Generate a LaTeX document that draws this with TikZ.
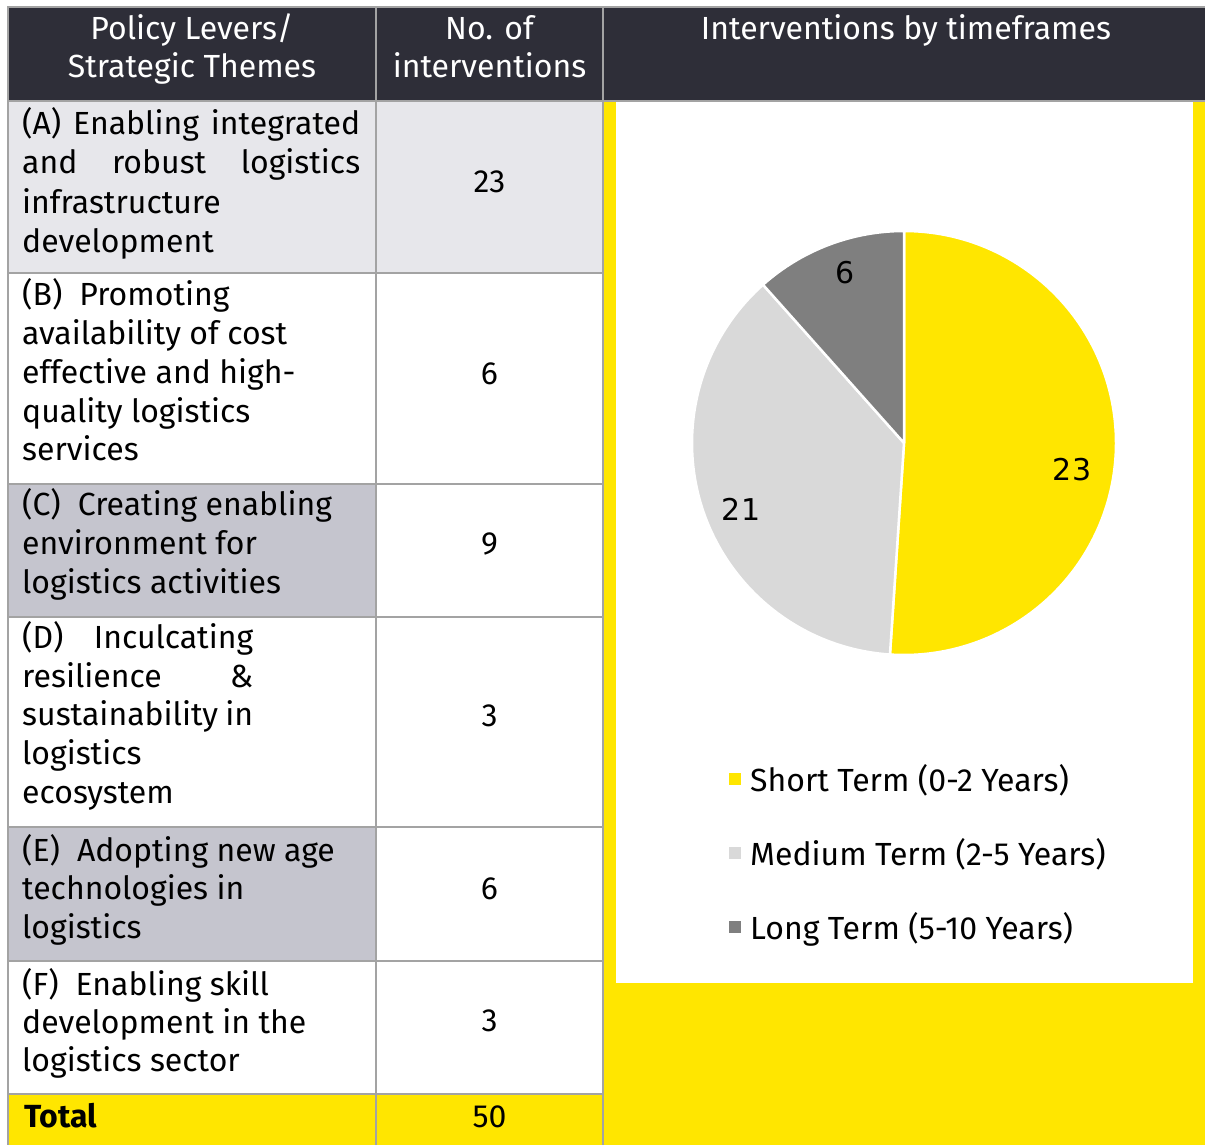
\documentclass[tikz,border=0pt]{standalone}
\usepackage{fontspec}
\setmainfont{Fira Sans}
\newfontfamily\regf{Fira Sans}
\newfontfamily\dejaf{DejaVu Sans}
\definecolor{hdrbg}{HTML}{2E2E38}
\definecolor{yel}{HTML}{FFE600}
\definecolor{rowA}{HTML}{E7E7EB}
\definecolor{rowG}{HTML}{C5C5CE}
\definecolor{gridgray}{HTML}{A3A3A3}
\definecolor{pielight}{HTML}{D9D9D9}
\definecolor{piedark}{HTML}{7F7F7F}
\newcommand{\bodyfont}{\fontsize{32}{38}\selectfont}
\newcommand{\hdrfont}{\regf\fontsize{32}{38}\selectfont}
\newcommand{\legfont}{\regf\fontsize{32}{38}\selectfont}
\newcommand{\piefont}{\dejaf\fontsize{30}{36}\selectfont}
\begin{document}
\begin{tikzpicture}[x=1pt,y=-1pt,
  gridline/.style={draw=gridgray, line width=2pt},
  txt/.style={anchor=base west, inner sep=0pt, font=\bodyfont},
  num/.style={anchor=base, inner sep=0pt, font=\bodyfont},
  hdr/.style={anchor=base, inner sep=0pt, font=\hdrfont, text=white},
  pielbl/.style={anchor=base, inner sep=0pt, font=\piefont},
  leg/.style={anchor=base west, inner sep=0pt, font=\legfont},
  legsq/.style={minimum size=12pt, inner sep=0pt, draw=none},
  slice/.style={draw=white, line width=2.5pt, line join=round}
]
\useasboundingbox (0,0) rectangle (1205,1145);
\fill[white] (0,0) rectangle (1205,1145);
% fills
\fill[hdrbg] (8,7) rectangle (1205,101);
\fill[rowA] (8,101) rectangle (603,273);
\fill[rowG] (8,484) rectangle (376,617);
\fill[rowG] (8,827) rectangle (376,961);
\fill[yel] (8,1094) rectangle (603,1145);
\fill[yel] (603,101) rectangle (1205,1145);
\fill[white] (616,102) rectangle (1193,983);
% grid
\draw[gridline] (7,7) -- (1205,7);
\draw[gridline] (7,101) -- (1205,101);
\foreach \xx in {8,376,603} \draw[gridline] (\xx,7) -- (\xx,1145);
\foreach \yy in {273,484,617,827,961,1094} \draw[gridline] (8,\yy) -- (603,\yy);
% header
\node[hdr] (h1a) at (192,40) {Policy Levers/};
\node[hdr] (h1b) at (192,78) {Strategic Themes};
\node[hdr] (h2a) at (489.5,40) {No. of};
\node[hdr] (h2b) at (489.5,78) {interventions};
\node[hdr] (h3) at (906,40) {Interventions by timeframes};
% row A
\node[txt] (a1) at (22,135) {\makebox[338pt][s]{(A) Enabling integrated}};
\node[txt] (a2) at (22,174) {\makebox[338pt][s]{and robust logistics}};
\node[txt] (a3) at (22,213) {infrastructure};
\node[txt] (a4) at (22,252) {development};
% row B
\node[txt] (b1) at (22,305) {(B)\ \ Promoting};
\node[txt] (b2) at (22,344) {availability of cost};
\node[txt] (b3) at (22,383) {effective and high-};
\node[txt] (b4) at (22,422) {quality logistics};
\node[txt] (b5) at (22,460) {services};
% row C
\node[txt] (c1) at (22,515) {(C)\ \ Creating enabling};
\node[txt] (c2) at (22,554) {environment for};
\node[txt] (c3) at (22,593) {logistics activities};
% row D
\node[txt] (d1) at (22,648) {\makebox[231pt][s]{(D) Inculcating}};
\node[txt] (d2) at (22,687) {\makebox[231pt][s]{resilience \&}};
\node[txt] (d3) at (22,725) {\makebox[231pt][s]{sustainability in}};
\node[txt] (d4) at (22,764) {logistics};
\node[txt] (d5) at (22,803) {ecosystem};
% row E
\node[txt] (e1) at (22,861) {(E)\ \ Adopting new age};
\node[txt] (e2) at (22,899) {technologies in};
\node[txt] (e3) at (22,938) {logistics};
% row F
\node[txt] (f1) at (22,995) {(F)\ \ Enabling skill};
\node[txt] (f2) at (22,1033) {development in the};
\node[txt] (f3) at (22,1071) {logistics sector};
% total
\node[txt, font=\regf\bfseries\fontsize{32}{38}\selectfont] (tot) at (24,1127) {Total};
% numbers
\node[num] (na) at (489.5,193) {23};
\node[num] (nb) at (489.5,384) {6};
\node[num] (nc) at (489.5,554) {9};
\node[num] (nd) at (489.5,726) {3};
\node[num] (ne) at (489.5,899) {6};
\node[num] (nf) at (489.5,1031) {3};
\node[num] (nt) at (489.5,1127) {50};
% pie
\filldraw[slice, fill=yel] (904,443) -- +(0,-212) arc[start angle=-90, end angle=93.8, radius=212] -- cycle;
\filldraw[slice, fill=pielight] (904,443) -- +({212*cos(93.8)},{212*sin(93.8)}) arc[start angle=93.8, end angle=228.3, radius=212] -- cycle;
\filldraw[slice, fill=piedark] (904,443) -- +({212*cos(228.3)},{212*sin(228.3)}) arc[start angle=228.3, end angle=270, radius=212] -- cycle;
\node[pielbl] (p6) at (845,283) {6};
\node[pielbl] (p23) at (1072,480) {23};
\node[pielbl] (p21) at (741,520) {21};
% legend
\node[legsq, fill=yel] (ls1) at (735,779) {};
\node[legsq, fill=pielight] (ls2) at (735,853) {};
\node[legsq, fill=piedark] (ls3) at (735,927) {};
\node[leg] (lt1) at (750,791) {Short Term (0-2 Years)};
\node[leg] (lt2) at (750,865) {Medium Term (2-5 Years)};
\node[leg] (lt3) at (750,939) {Long Term (5-10 Years)};
\end{tikzpicture}
\end{document}
